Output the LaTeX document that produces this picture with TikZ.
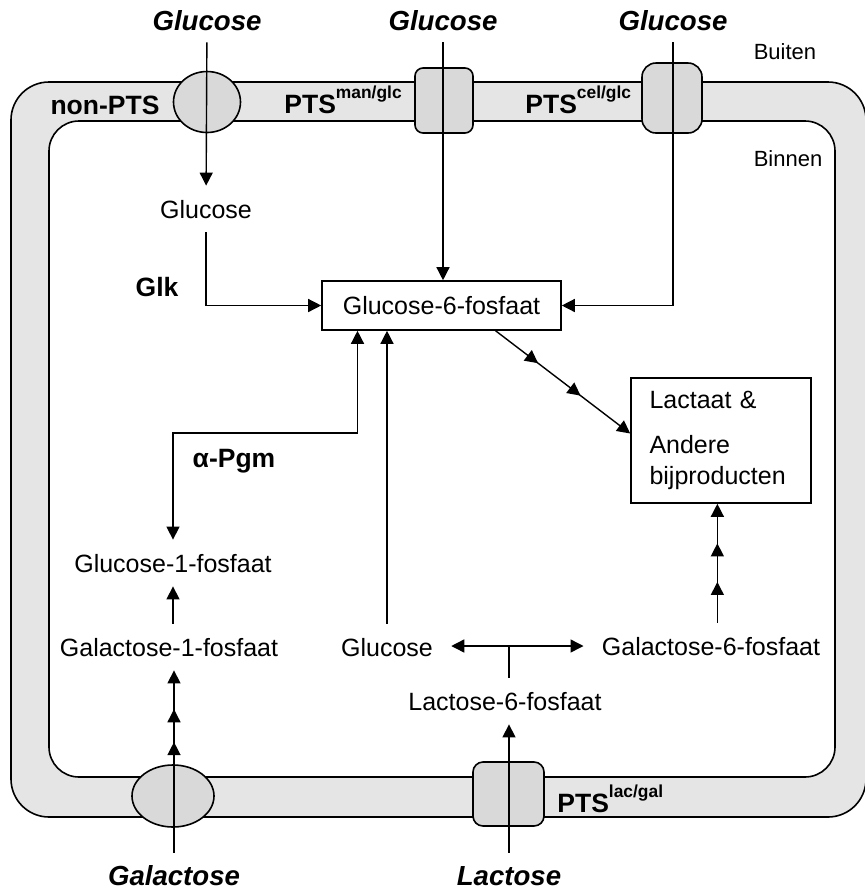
\documentclass[tikz,border=0pt]{standalone}
\usepackage{fontspec}
\setmainfont{Liberation Sans}
\usetikzlibrary{arrows.meta,calc,shapes.geometric,decorations.markings}
\newcommand\ptsup[1]{PTS\raisebox{7.5pt}{\fontsize{8.7}{9}\selectfont #1}}
\tikzset{
  membrane/.style={draw,line width=0.8pt,fill=black!10,rounded corners=19pt},
  cytoplasm/.style={draw,line width=0.8pt,fill=white,rounded corners=15pt},
  transporter/.style={draw,line width=0.8pt,fill=black!15,inner sep=0pt},
  pool node/.style={draw,line width=0.8pt,fill=white,
    font=\fontsize{12.5}{15.5}\selectfont},
  metabolite/.style={font=\fontsize{12.5}{15}\selectfont,inner xsep=9pt,
    inner ysep=7pt,text height=9pt,text depth=0pt},
  substrate/.style={font=\fontsize{13.8}{16}\selectfont\bfseries\itshape,
    inner ysep=6pt,text height=9.9pt,text depth=0pt},
  enzyme label/.style={font=\fontsize{13.25}{16}\selectfont\bfseries,inner sep=0pt},
  side label/.style={font=\fontsize{11}{13}\selectfont,inner sep=0pt},
  flow/.style={->,line width=0.7pt},
  mid tips/.style 2 args={postaction={decorate},decoration={markings,
    mark=at position #1 with {\arrow{>}},mark=at position #2 with {\arrow{>}}}},
}
\begin{document}
\begin{tikzpicture}[x=0.5pt,y=-0.5pt,>={Triangle[length=6.5pt,width=6.5pt]}]
  \useasboundingbox (0,0) rectangle (865,890);
  % cell envelope
  \draw[membrane] (11,82) rectangle (866,817);
  \draw[cytoplasm] (49,121) rectangle (835,777);
  \node[side label,anchor=base] (buiten) at (785,59) {Buiten};
  \node[side label,anchor=base] (binnen) at (788,166) {Binnen};
  % transporters
  \node[transporter,ellipse,minimum width=33.5pt,minimum height=30.5pt] (nonpts) at (207,102) {};
  \node[transporter,rounded corners=4pt,minimum width=29pt,minimum height=32.5pt] (manglc) at (444,100.5) {};
  \node[transporter,rounded corners=7pt,minimum width=30pt,minimum height=35pt] (celglc) at (672,98) {};
  \node[transporter,ellipse,minimum width=41pt,minimum height=31pt] (galperm) at (173,796) {};
  \node[transporter,rounded corners=5pt,minimum width=35.5pt,minimum height=32pt] (lacgal) at (508.5,794) {};
  \node[enzyme label,anchor=base] (nonptslab) at (105,114) {non-PTS};
  \node[enzyme label,anchor=base west] (manglclab) at (284,113) {\ptsup{man/glc}};
  \node[enzyme label,anchor=base west] (celglclab) at (525,113) {\ptsup{cel/glc}};
  \node[enzyme label,anchor=base west] (lacgallab) at (557,812) {\ptsup{lac/gal}};
  % substrates outside
  \node[substrate,anchor=base] (glcout1) at (207,30) {Glucose};
  \node[substrate,anchor=base] (glcout2) at (443,30) {Glucose};
  \node[substrate,anchor=base] (glcout3) at (673,30) {Glucose};
  \node[substrate,anchor=base] (galout) at (174,885) {Galactose};
  \node[substrate,anchor=base] (lacout) at (509,885) {Lactose};
  % metabolites inside
  \node[metabolite,anchor=base] (glcin) at (206,218) {Glucose};
  \node[pool node,minimum width=119.5pt,minimum height=24.5pt] (g6p) at (441.5,305.5) {Glucose-6-fosfaat};
  \node[pool node,minimum width=90pt,minimum height=62.5pt,text width=71.5pt,
    inner xsep=9.25pt,align=left] (lact) at (721,440.5) {Lactaat \&\\[7pt]Andere\\bijproducten};
  \node[metabolite,anchor=base] (g1p) at (173,572) {Glucose-1-fosfaat};
  \node[metabolite,anchor=base] (gal1p) at (169,656) {Galactose-1-fosfaat};
  \node[metabolite,anchor=base] (glcfree) at (387,656) {Glucose};
  \node[metabolite,anchor=base] (gal6p) at (711,655) {Galactose-6-fosfaat};
  \node[metabolite,anchor=base] (lac6p) at (505,710) {Lactose-6-fosfaat};
  \node[enzyme label,anchor=base] (glk) at (157,296) {Glk};
  \node[enzyme label,anchor=base] (pgm) at (234,467) {α-Pgm};
  % glucose uptake
  \draw[flow] (glcout1) -- (glcin);
  \draw[flow] (glcin) |- (g6p);
  \draw[flow] (glcout2) -- (glcout2 |- g6p.north);
  \draw[flow] (glcout3) |- (g6p);
  % glycolysis
  \coordinate (g6pout) at ($(g6p.south west)!0.725!(g6p.south east)$);
  \coordinate (lactin) at ($(lact.west)+(0,-7)$);
  \draw[flow,mid tips={0.316}{0.632}] (g6pout) -- (lactin);
  % galactose branch
  \coordinate (pgmbend) at (357.5,433);
  \draw[<->,line width=0.7pt] (g1p) |- (pgmbend) -- (pgmbend |- g6p.south);
  \draw[flow,mid tips={0.607}{0.787}] (galout) -- (galout |- gal1p.south);
  \draw[flow] (gal1p.north -| g1p) -- (g1p);
  % lactose branch
  \coordinate (split) at (509,646);
  \draw[line width=0.7pt] (lac6p.north -| split) -- (split);
  \draw[flow] (split) -- (split -| glcfree.east);
  \draw[flow] (split) -- (split -| gal6p.west);
  \draw[flow] (glcfree) -- (glcfree |- g6p.south);
  \draw[flow] (lacout) -- (lacout |- lac6p.south);
  \coordinate (lactbot) at ($(lact.south west)!0.48!(lact.south east)$);
  \draw[flow,mid tips={0.342}{0.667}] (gal6p.north -| lactbot) -- (lactbot);
\end{tikzpicture}
\end{document}
